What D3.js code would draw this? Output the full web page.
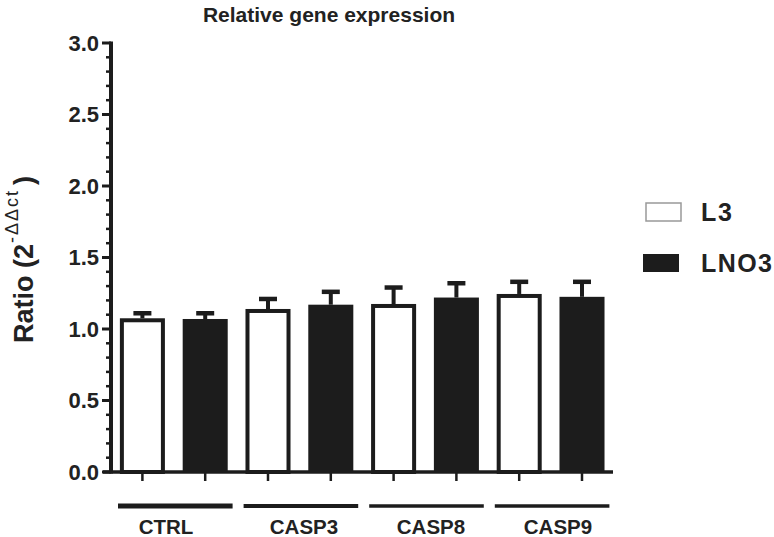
<!DOCTYPE html>
<html><head><meta charset="utf-8">
<script src="https://cdn.jsdelivr.net/npm/d3@7"></script>
<style>body{margin:0;background:#fff}svg{display:block}text{font-family:"Liberation Sans",Arial,sans-serif;font-weight:bold;fill:#222}</style>
</head><body><svg id="c" width="774" height="537"></svg>
<script>
const groups = ["CTRL","CASP3","CASP8","CASP9"];
const series = ["L3","LNO3"];
const meanL3 = [1.075,1.14,1.175,1.245];
const meanLNO3 = [1.07,1.17,1.22,1.225];
const errL3 = [0.035,0.07,0.115,0.085];
const errLNO3 = [0.04,0.09,0.10,0.105];
const yTicks = [0,0.5,1.0,1.5,2.0,2.5,3.0];

const svg = d3.select("#c");
const ink = "#1c1c1c";
const y = d3.scaleLinear().domain([0,3]).range([472,43]);
const x0 = d3.scaleBand().domain(groups).range([111,613.4]).padding(0);
const x1 = d3.scaleBand().domain(series).range([0,x0.bandwidth()]).paddingInner(0.283).paddingOuter(0.1415);

const data = [];
groups.forEach((g,i)=>{
  data.push({g,s:"L3",v:meanL3[i],e:errL3[i]});
  data.push({g,s:"LNO3",v:meanLNO3[i],e:errLNO3[i]});
});

// error bars
const eb = svg.append("g");
data.forEach(d=>{
  const cx = x0(d.g)+x1(d.s)+x1.bandwidth()/2;
  eb.append("line").attr("x1",cx).attr("x2",cx).attr("y1",y(d.v)).attr("y2",y(d.v+d.e)).attr("stroke",ink).attr("stroke-width",4);
  eb.append("line").attr("x1",cx-9).attr("x2",cx+9).attr("y1",y(d.v+d.e)).attr("y2",y(d.v+d.e)).attr("stroke",ink).attr("stroke-width",4.5);
});

// bars
svg.append("g").selectAll("rect").data(data).join("rect")
  .attr("x",d=>x0(d.g)+x1(d.s)+(d.s==="L3"?2:0))
  .attr("width",d=>x1.bandwidth()-(d.s==="L3"?4:0))
  .attr("y",d=>y(d.v)+(d.s==="L3"?2:0))
  .attr("height",d=>y(0)-y(d.v)-(d.s==="L3"?2:0))
  .attr("fill",d=>d.s==="L3"?"#fff":ink)
  .attr("stroke",d=>d.s==="L3"?ink:"none")
  .attr("stroke-width",4);

// y axis
const yAxis = svg.append("g").attr("transform","translate(111,0)");
yAxis.append("line").attr("x1",0).attr("x2",0).attr("y1",y(3)-1.5).attr("y2",y(0)+1.5).attr("stroke",ink).attr("stroke-width",4);
d3.range(0,31).forEach(k=>{
  const v=k/10, major = k%5===0;
  yAxis.append("line").attr("x1",major?-9:-5).attr("x2",0).attr("y1",y(v)).attr("y2",y(v)).attr("stroke",ink).attr("stroke-width",major?3:2.5);
});
yAxis.selectAll("text.t").data(yTicks).join("text").attr("class","t")
  .attr("x",-12).attr("y",d=>y(d)).attr("dy","0.36em").attr("text-anchor","end")
  .attr("font-size",22).text(d=>d.toFixed(1));

// x axis
const xa = svg.append("g");
xa.append("line").attr("x1",103).attr("x2",613).attr("y1",y(0)).attr("y2",y(0)).attr("stroke",ink).attr("stroke-width",3.5);
data.forEach(d=>{
  const cx = x0(d.g)+x1(d.s)+x1.bandwidth()/2;
  xa.append("line").attr("x1",cx).attr("x2",cx).attr("y1",y(0)).attr("y2",y(0)+9).attr("stroke",ink).attr("stroke-width",2.5);
});

// group lines and labels
const gw = [5,4,3.5,3.5];
const lx = [166,304,431,558];
groups.forEach((g,i)=>{
  xa.append("line").attr("x1",x0(g)+7).attr("x2",x0(g)+x0.bandwidth()-4).attr("y1",506).attr("y2",506).attr("stroke",ink).attr("stroke-width",gw[i]);
  xa.append("text").attr("x",lx[i]).attr("y",534).attr("text-anchor","middle").attr("font-size",20.5).text(g);
});

// title
svg.append("text").attr("x",329).attr("y",22).attr("text-anchor","middle").attr("font-size",21).text("Relative gene expression");

// y label
const yl = svg.append("text").attr("transform","translate(33,343) rotate(-90)").attr("font-size",27);
yl.append("tspan").attr("x",0).attr("y",0).text("Ratio (2");
yl.append("tspan").attr("x",100).attr("y",-15).attr("font-size",18).attr("font-weight","normal").attr("textLength",52).attr("lengthAdjust","spacing").text("-ΔΔct");
yl.append("tspan").attr("x",158).attr("y",0).text(")");

// legend
const lg = svg.append("g");
lg.append("rect").attr("x",646).attr("y",203).attr("width",35).attr("height",18).attr("fill","#fff").attr("stroke","#999").attr("stroke-width",1.5);
lg.append("rect").attr("x",643).attr("y",254).attr("width",36).attr("height",18).attr("fill",ink);
lg.append("text").attr("x",701).attr("y",221).attr("font-size",25).attr("textLength",31).text(series[0]);
lg.append("text").attr("x",701).attr("y",272).attr("font-size",25).attr("textLength",71).text(series[1]);
</script></body></html>
